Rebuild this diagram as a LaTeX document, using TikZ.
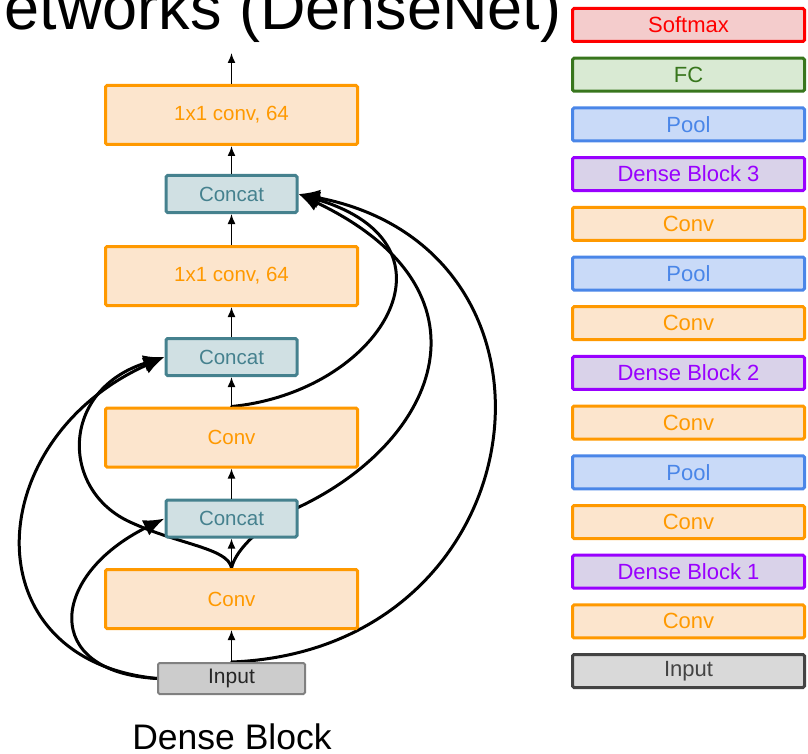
\documentclass[tikz,border=0pt]{standalone}
\usepackage{fontspec}
\setmainfont{Liberation Sans}
\usetikzlibrary{arrows.meta}
\pgfdeclarelayer{background}
\pgfsetlayers{background,main}
\definecolor{orB}{HTML}{FF9900}
\definecolor{orF}{HTML}{FCE5CD}
\definecolor{ccB}{HTML}{45818E}
\definecolor{ccF}{HTML}{D0E0E3}
\definecolor{inB}{HTML}{808080}
\definecolor{inF}{HTML}{CCCCCC}
\definecolor{in2B}{HTML}{434343}
\definecolor{in2F}{HTML}{D9D9D9}
\definecolor{smB}{HTML}{FF0000}
\definecolor{smF}{HTML}{F4CCCC}
\definecolor{fcB}{HTML}{38761D}
\definecolor{fcF}{HTML}{D9EAD3}
\definecolor{plB}{HTML}{4A86E8}
\definecolor{plF}{HTML}{C9DAF8}
\definecolor{dbB}{HTML}{9900FF}
\definecolor{dbF}{HTML}{D9D2E9}
\tikzset{
  box/.style={draw, rounded corners=1.5pt, inner sep=0pt, line width=3pt},
  convbox/.style={box, draw=orB, fill=orF, text=orB, minimum width=252pt, minimum height=59pt, font=\fontsize{20.5}{20.5}\selectfont},
  catbox/.style={box, draw=ccB, fill=ccF, text=ccB, minimum width=131pt, minimum height=37pt, font=\fontsize{20.5}{20.5}\selectfont},
  inbox/.style={box, line width=2pt, draw=inB, fill=inF, text=black!85, minimum width=147pt, minimum height=31pt, font=\fontsize{21}{21}\selectfont},
  rbox/.style={box, minimum width=232pt, minimum height=33pt, font=\fontsize{22}{22}\selectfont},
  rconv/.style={rbox, draw=orB, fill=orF, text=orB},
  rpool/.style={rbox, draw=plB, fill=plF, text=plB},
  rdense/.style={rbox, draw=dbB, fill=dbF, text=dbB},
  rsoft/.style={rbox, draw=smB, fill=smF, text=smB},
  rfc/.style={rbox, draw=fcB, fill=fcF, text=fcB},
  rin/.style={rbox, draw=in2B, fill=in2F, text=in2B},
  flow/.style={line width=1.5pt, -{Latex[length=10pt,width=8pt]}},
  skip/.style={line width=3pt, line cap=round, -{Latex[length=21pt,width=17pt]}}
}
\begin{document}
\begin{tikzpicture}[x=1pt,y=-1pt]
\useasboundingbox (0,0) rectangle (808,754);
\clip (0,0) rectangle (808,754);
% title (cut off)
\node[anchor=base west, inner sep=0pt, font=\fontsize{63}{63}\selectfont] (title) at (4.5,30) {etworks (DenseNet)};
% left column
\node[convbox] (c4) at (231.5,115) {1x1 conv, 64};
\node[catbox]  (k3) at (231.5,194) {Concat};
\node[convbox] (c3) at (231.5,276) {1x1 conv, 64};
\node[catbox]  (k2) at (231.5,357) {Concat};
\node[convbox] (c2) at (231.5,437.5) {Conv};
\node[catbox]  (k1) at (231.5,518.5) {Concat};
\node[convbox] (c1) at (231.5,599) {Conv};
\node[inbox]   (in) at (231.5,678.5) {Input};
\coordinate (out) at (231.5,53);
\node[anchor=base, inner sep=0pt, font=\fontsize{35.5}{35.5}\selectfont] (lbl) at (232,749) {Dense Block};
% straight arrows
\draw[flow] (in.north) -- (c1.south);
\draw[flow] (c1.north) -- (k1.south);
\draw[flow] (k1.north) -- (c2.south);
\draw[flow] (c2.north) -- (k2.south);
\draw[flow] (k2.north) -- (c3.south);
\draw[flow] (c3.north) -- (k3.south);
\draw[flow] (k3.north) -- (c4.south);
\draw[flow] (c4.north) -- (out);
% skip connections
\begin{pgfonlayer}{background}
\draw[skip] (in.west) .. controls (40,672) and (50,575) .. (k1.west);
\draw[skip] (in.west) .. controls (-30,660) and (-20,440) .. (k2.west);
\draw[skip] (c1.north) .. controls (228,548) and (180,545) .. (130,522) .. controls (60,490) and (60,390) .. (k2.west);
\draw[skip] (c1.north) .. controls (236,548) and (265,522) .. (299,507) .. controls (440,440) and (500,290) .. (k3.east);
\draw[skip] (c2.north) .. controls (380,392) and (470,245) .. (k3.east);
\draw[skip] (in.north) .. controls (540,650) and (590,250) .. (k3.east);
\end{pgfonlayer}
% right column
\node[rsoft]  (r1)  at (688.5,25)    {Softmax};
\node[rfc]    (r2)  at (688.5,74.7)  {FC};
\node[rpool]  (r3)  at (688.5,124.4) {Pool};
\node[rdense] (r4)  at (688.5,174.1) {Dense Block 3};
\node[rconv]  (r5)  at (688.5,223.8) {Conv};
\node[rpool]  (r6)  at (688.5,273.5) {Pool};
\node[rconv]  (r7)  at (688.5,323.2) {Conv};
\node[rdense] (r8)  at (688.5,372.9) {Dense Block 2};
\node[rconv]  (r9)  at (688.5,422.6) {Conv};
\node[rpool]  (r10) at (688.5,472.3) {Pool};
\node[rconv]  (r11) at (688.5,522)   {Conv};
\node[rdense] (r12) at (688.5,571.7) {Dense Block 1};
\node[rconv]  (r13) at (688.5,621.4) {Conv};
\node[rin]    (r14) at (688.5,671.1) {Input};
\end{tikzpicture}
\end{document}
